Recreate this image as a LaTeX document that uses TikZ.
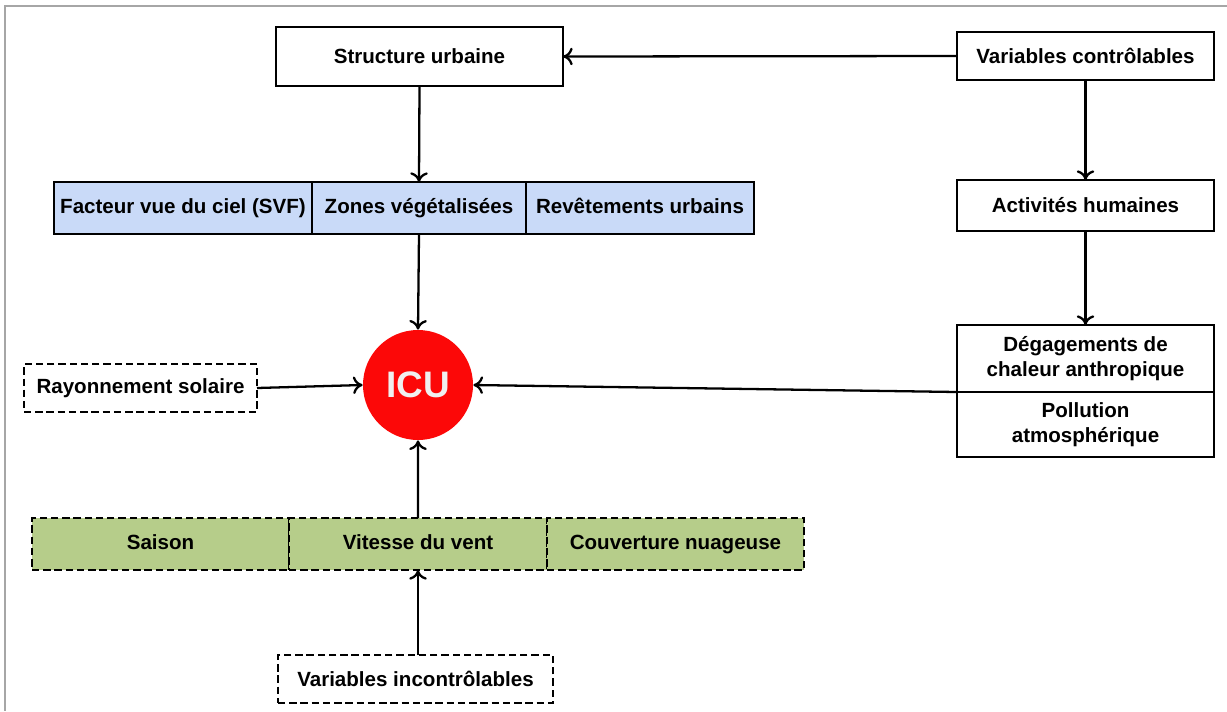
\documentclass[tikz,border=0pt]{standalone}
\usepackage{fontspec}
\setmainfont{Liberation Sans}
\usetikzlibrary{positioning,arrows.meta}
\definecolor{svfblue}{RGB}{201,218,248}
\definecolor{meteogreen}{RGB}{182,205,138}
\definecolor{icured}{RGB}{252,8,8}
\tikzset{
  wpx/.style  = {minimum width=#1*0.02cm},
  hpx/.style  = {minimum height=#1*0.02cm},
  box/.style  = {shape=rectangle, draw, line width=1.3pt, align=center,
                 inner sep=0pt, outer sep=0pt, fill=white,
                 font=\fontsize{11.7}{14.2}\selectfont\bfseries},
  dbox/.style = {box, dash pattern=on 4.2pt off 2.2pt},
  blue/.style = {box, hpx=52, fill=svfblue, text height=1.6ex, text depth=0.45ex},
  green/.style= {dbox, hpx=52, fill=meteogreen, text height=1.6ex, text depth=0.45ex},
  icu/.style  = {circle, fill=icured, minimum size=110*0.02cm, inner sep=0pt,
                 text=white!94!black, font=\fontsize{21}{24}\selectfont\bfseries},
  link/.style = {line width=1.3pt, -{To[length=5.5pt,width=10pt,line width=1.3pt]}}
}
\begin{document}
\begin{tikzpicture}[x=0.02cm,y=-0.02cm]
  \useasboundingbox (0,0) rectangle (1227,711);
  \draw[gray!70, line width=0.8pt] (1227,6) -- (5,6) -- (5,711);

  \node[box, wpx=287, hpx=59] (struct) at (419.5,56.5) {Structure urbaine};
  \node[box, wpx=257, hpx=48] (varctrl) at (1085.5,56) {Variables contrôlables};

  \node[blue, wpx=258] (svf) at (183,208) {Facteur vue du ciel (SVF)};
  \node[blue, wpx=214, right=0pt of svf] (zones) {Zones végétalisées};
  \node[blue, wpx=228, right=0pt of zones] (revet) {Revêtements urbains};

  \node[icu] (icu) at (418,385) {ICU};

  \node[dbox, wpx=233, hpx=48] (rayon) at (140.5,388) {Rayonnement solaire};

  \node[green, wpx=257] (saison) at (160.5,544) {Saison};
  \node[green, wpx=258, right=0pt of saison] (vent) {Vitesse du vent};
  \node[green, wpx=257, right=0pt of vent] (nuage) {Couverture nuageuse};

  \node[dbox, wpx=275, hpx=48] (varinc) at (415.5,679) {Variables incontrôlables};

  \node[box, wpx=257, hpx=51] (activ) at (1085.5,205.5) {Activités humaines};
  \node[box, wpx=257, hpx=67] (degag) at (1085.5,358.5) {Dégagements de\\chaleur anthropique};
  \node[box, wpx=257, hpx=65, below=0pt of degag] (pollu) {Pollution\\atmosphérique};

  \draw[link] (varctrl.west) -- (struct.east);
  \draw[link] (struct.south) -- (zones.north);
  \draw[link] (zones.south) -- (icu.north);
  \draw[link] (rayon.east) -- (icu.west);
  \draw[link] (vent.north) -- (icu.south);
  \draw[link] (vent.south |- varinc.north) -- (vent.south);
  \draw[link] (varctrl.south) -- (activ.north);
  \draw[link] (activ.south) -- (degag.north);
  \draw[link] (degag.south west) -- (icu.east);
\end{tikzpicture}
\end{document}
